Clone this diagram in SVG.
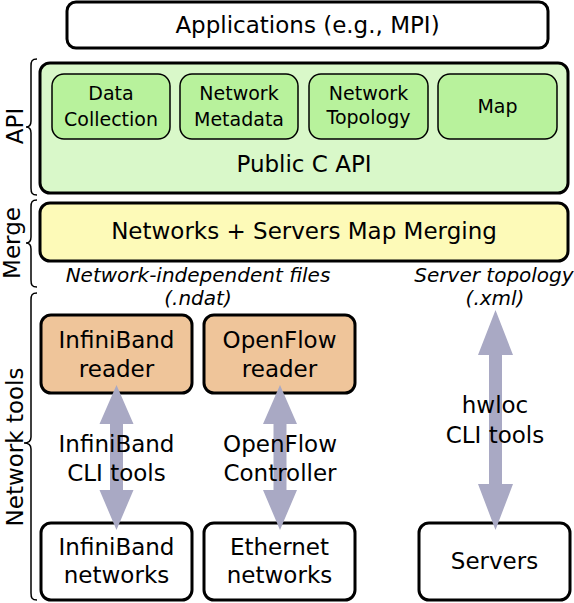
<svg xmlns="http://www.w3.org/2000/svg" width="574" height="603" viewBox="0 0 574 603">
<style>
text{font-family:"DejaVu Sans","Liberation Sans",sans-serif;fill:#000;text-anchor:middle}
.big{font-size:23px}
.sm{font-size:19px}
.it{font-size:20px;font-style:italic}
.box{stroke:#000;stroke-width:3}
.inner{fill:#b8f29c;stroke:#000;stroke-width:1.5}
.brace{fill:none;stroke:#000;stroke-width:1.5}
.arr{fill:#a9a9c4}
</style>
<rect width="574" height="603" fill="#fff"/>

<g id="labels">
<text class="big" transform="translate(23,126) rotate(-90)">API</text>
<text class="big" transform="translate(20,243) rotate(-90)">Merge</text>
<text class="big" transform="translate(23,447) rotate(-90)">Network tools</text>
<path class="brace" d="M37 59 C32 59 31 61 31 66 L31 121 C31 125 29 127 26 127 C29 127 31 129 31 133 L31 188 C31 193 32 195 37 195"/>
<path class="brace" d="M37 200 C32 200 31 202 31 207 L31 237 C31 241 29 243 26 243 C29 243 31 245 31 249 L31 280 C31 285 32 287 37 287"/>
<path class="brace" d="M37 293 C32 293 31 295 31 300 L31 437 C31 441 29 443 24 443 C29 443 31 445 31 449 L31 593 C31 598 32 600 37 600"/>
</g>

<g id="applications">
<rect class="box" x="67" y="2" width="481" height="46" rx="9" fill="#fff"/>
<text class="big" x="307.5" y="33">Applications (e.g., MPI)</text>
</g>

<g id="api">
<rect class="box" x="40" y="63" width="528" height="130" rx="10" fill="#d9f8c9"/>
<text class="big" x="304" y="172">Public C API</text>
</g>
<g id="data-collection">
<rect class="inner" x="52" y="74" width="118" height="65" rx="12"/>
<text class="sm" x="111" y="100">Data</text>
<text class="sm" x="111" y="126">Collection</text>
</g>
<g id="network-metadata">
<rect class="inner" x="180" y="74" width="118" height="65" rx="12"/>
<text class="sm" x="239" y="100">Network</text>
<text class="sm" x="239" y="126">Metadata</text>
</g>
<g id="network-topology">
<rect class="inner" x="309" y="74" width="119" height="65" rx="12"/>
<text class="sm" x="368.5" y="100">Network</text>
<text class="sm" x="368.5" y="124">Topology</text>
</g>
<g id="map">
<rect class="inner" x="438" y="74" width="119" height="65" rx="12"/>
<text class="sm" x="497.5" y="113">Map</text>
</g>

<g id="merge">
<rect class="box" x="40" y="203" width="528" height="58" rx="10" fill="#fdfab8"/>
<text class="big" x="304" y="239">Networks + Servers Map Merging</text>
</g>

<g id="ndat">
<text class="it" x="198" y="282">Network-independent files</text>
<text class="it" x="198" y="305">(.ndat)</text>
</g>
<g id="xml">
<text class="it" x="494" y="282">Server topology</text>
<text class="it" x="495" y="305">(.xml)</text>
</g>

<g id="infiniband-reader">
<rect class="box" x="41" y="315" width="151" height="78" rx="10" fill="#efc59a"/>
<text class="big" x="116.5" y="348">InfiniBand</text>
<text class="big" x="116.5" y="377">reader</text>
</g>
<g id="openflow-reader">
<rect class="box" x="204" y="315" width="151" height="78" rx="10" fill="#efc59a"/>
<text class="big" x="279.5" y="348">OpenFlow</text>
<text class="big" x="279.5" y="377">reader</text>
</g>

<g id="infiniband-networks">
<rect class="box" x="41" y="523" width="151" height="77" rx="10" fill="#fff"/>
<text class="big" x="116.5" y="555">InfiniBand</text>
<text class="big" x="116.5" y="583">networks</text>
</g>
<g id="ethernet-networks">
<rect class="box" x="204" y="523" width="151" height="77" rx="10" fill="#fff"/>
<text class="big" x="279.5" y="555">Ethernet</text>
<text class="big" x="279.5" y="583">networks</text>
</g>
<g id="servers">
<rect class="box" x="419" y="523" width="151" height="77" rx="10" fill="#fff"/>
<text class="big" x="494.5" y="569">Servers</text>
</g>

<g id="connectors">
<polygon class="arr" points="116.5,385 133.5,424 123,424 123,490 133.5,490 116.5,530 99.5,490 110,490 110,424 99.5,424"/>
<polygon class="arr" points="280,385 297,424 286.5,424 286.5,490 297,490 280,530 263,490 273.5,490 273.5,424 263,424"/>
<polygon class="arr" points="495.5,310 513,355 502,355 502,484 513,484 495.5,530 478,484 489,484 489,355 478,355"/>
</g>

<g id="connector-labels">
<text class="big" x="116.5" y="452">InfiniBand</text>
<text class="big" x="116.5" y="481">CLI tools</text>
<text class="big" x="280" y="452">OpenFlow</text>
<text class="big" x="280" y="481">Controller</text>
<text class="big" x="495" y="413">hwloc</text>
<text class="big" x="495" y="443">CLI tools</text>
</g>
</svg>
